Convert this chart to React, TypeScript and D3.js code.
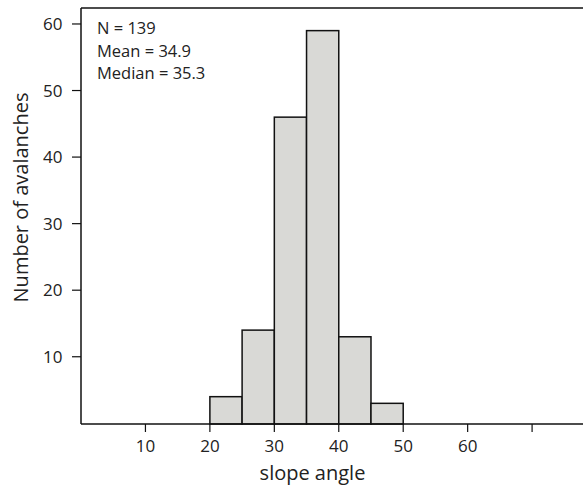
import React from "react";
import * as d3 from "d3";

const binStarts = [20, 25, 30, 35, 40, 45];
const binWidth = 5;
const counts = [4, 14, 46, 59, 13, 3];
const xTicks = [10, 20, 30, 40, 50, 60, 70];
const xTickLabels = ["10", "20", "30", "40", "50", "60", ""];
const yTicks = [10, 20, 30, 40, 50, 60];
const statsLines = ["N = 139", "Mean = 34.9", "Median = 35.3"];

const W = 583;
const H = 485;
const FONT = "'Open Sans', 'Noto Sans', sans-serif";

export default function App() {
  const left = 81;
  const right = 583;
  const top = 8;
  const bottom = 424;
  const x = d3.scaleLinear().domain([0, 77.9]).range([left, right]);
  const y = d3.scaleLinear().domain([0, 62.4]).range([423.3, top]);

  return (
    <svg width={W} height={H} style={{ position: "absolute", left: 0, top: 0, background: "#fff" }}>
      {binStarts.map((s, i) => (
        <rect
          key={i}
          x={x(s)}
          y={y(counts[i])}
          width={x(s + binWidth) - x(s)}
          height={bottom - y(counts[i])}
          fill="#d9d9d6"
          stroke="#111"
          strokeWidth={1.5}
        />
      ))}
      <line x1={left} x2={right + 2} y1={top} y2={top} stroke="#111" strokeWidth={1.5} />
      <line x1={left} x2={left} y1={top} y2={bottom} stroke="#111" strokeWidth={1.5} />
      <line x1={left} x2={right + 2} y1={bottom} y2={bottom} stroke="#111" strokeWidth={1.5} />
      {yTicks.map((t) => (
        <g key={t}>
          <line x1={left - 9} x2={left} y1={y(t)} y2={y(t)} stroke="#111" strokeWidth={1.2} />
          <text x={62.5} y={y(t)} dy="0.36em" textAnchor="end" fontFamily={FONT} fontSize={17} fill="#222">
            {t}
          </text>
        </g>
      ))}
      {xTicks.map((t, i) => (
        <g key={t}>
          <line x1={x(t)} x2={x(t)} y1={bottom} y2={bottom + 8} stroke="#111" strokeWidth={1.2} />
          <text x={x(t)} y={452} textAnchor="middle" fontFamily={FONT} fontSize={17} fill="#222">
            {xTickLabels[i]}
          </text>
        </g>
      ))}
      <text x={312.5} y={480} textAnchor="middle" fontFamily={FONT} fontSize={20} fill="#222">
        slope angle
      </text>
      <text
        transform={`translate(28, 197.5) rotate(-90)`}
        textAnchor="middle"
        fontFamily={FONT}
        fontSize={20}
        fill="#222"
      >
        Number of avalanches
      </text>
      {statsLines.map((s, i) => (
        <text key={i} x={97} y={34 + i * 22.5} fontFamily={FONT} fontSize={16.5} fill="#222">
          {s}
        </text>
      ))}
    </svg>
  );
}
